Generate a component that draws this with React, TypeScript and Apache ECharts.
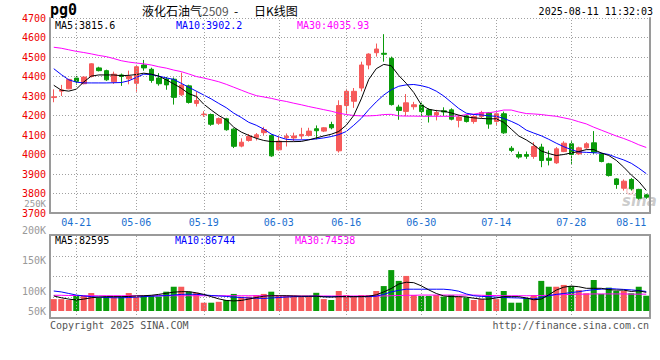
import React, { useEffect, useRef } from 'react';
import * as echarts from 'echarts';

const dates = ['04-16','04-17','04-18','04-21','04-22','04-23','04-24','04-25','04-28','04-29','04-30','05-06','05-07','05-08','05-09','05-12','05-13','05-14','05-15','05-16','05-19','05-20','05-21','05-22','05-23','05-26','05-27','05-28','05-29','05-30','06-03','06-04','06-05','06-06','06-09','06-10','06-11','06-12','06-13','06-16','06-17','06-18','06-19','06-20','06-23','06-24','06-25','06-26','06-27','06-30','07-01','07-02','07-03','07-04','07-07','07-08','07-09','07-10','07-11','07-14','07-15','07-16','07-17','07-18','07-21','07-22','07-23','07-24','07-25','07-28','07-29','07-30','07-31','08-01','08-04','08-05','08-06','08-07','08-08','08-11'];
const labelDates = ['04-21','05-06','05-19','06-03','06-16','06-30','07-14','07-28','08-11'];

const openP = [4292,4325,4337,4392,4363,4400,4444,4430,4373,4408, 4388,4365,4459,4437,4392,4387,4386,4306,4352,4262, 4204,4205,4160,4183,4130,4043,4072,4088,4112,4098, 4024,4086,4085,4095,4098,4132,4120,4154,4019,4251, 4273,4341,4459,4522,4519,4493,4243,4221,4245,4254, 4229,4203,4224,4229,4175,4198,4169,4195,4213,4169, 4209,4032,4000,4000,3990,4038,3981,3957,4015,4055, 4003,4034,4060,4003,3952,3875,3827,3872,3821,3793];
const closeP = [4296,4331,4385,4375,4397,4465,4430,4383,4412,4400, 4400,4450,4444,4380,4363,4357,4293,4356,4267,4277, 4207,4155,4184,4127,4042,4063,4093,4101,4128,3993, 4068,4094,4095,4103,4120,4122,4137,4137,4251,4324, 4324,4459,4515,4541,4514,4256,4226,4265,4255,4220, 4202,4215,4218,4181,4192,4169,4195,4215,4156,4209, 4111,4021,3987,3991,4041,3969,3970,4029,4058,4000, 4034,4055,4012,3964,3892,3846,3863,3824,3776,3781];
const lowP = [4268,4300,4335,4358,4360,4395,4426,4378,4362,4352, 4360,4322,4430,4368,4353,4332,4256,4300,4261,4246, 4193,4147,4152,4122,4033,4037,4066,4072,4098,3988, 4020,4041,4069,4078,4092,4078,4115,4129,4010,4205, 4239,4324,4437,4502,4476,4251,4178,4197,4230,4198, 4164,4175,4198,4175,4139,4164,4158,4186,4132,4152, 4106,4012,3978,3978,3978,3935,3944,3952,4012,3952, 3997,4029,4003,3960,3887,3824,3815,3815,3769,3773];
const highP = [4334,4357,4388,4403,4400,4468,4450,4435,4425,4415, 4430,4460,4485,4445,4417,4398,4395,4420,4358,4323, 4222,4210,4190,4188,4135,4083,4105,4110,4142,4103, 4092,4108,4112,4137,4137,4149,4140,4168,4278,4337, 4341,4476,4519,4569,4617,4502,4255,4310,4270,4266, 4237,4229,4242,4237,4203,4203,4203,4224,4216,4217, 4220,4043,4015,4015,4063,4055,4020,4038,4068,4068, 4040,4063,4120,4008,3957,3879,3872,3879,3824,3798];

const ma5 = [4355,4330,4325,4335,4372,4402,4408,4408,4408,4404, 4406,4410,4417,4412,4402,4383,4362,4340,4312,4298, 4258,4228,4200,4178,4140,4115,4098,4083,4072,4066, 4066,4066,4066,4067,4075,4085,4095,4104,4118,4150, 4200,4285,4385,4440,4462,4455,4405,4365,4318,4255, 4232,4225,4222,4213,4202,4193,4188,4185,4183,4183, 4165,4130,4095,4075,4050,4018,4005,3995,4000,4008, 4015,4025,4025,4008,3995,3970,3935,3895,3862,3816];
const ma10 = [4440,4410,4383,4371,4367,4367,4367,4367,4368,4369, 4378,4395,4412,4410,4402,4393,4385,4365,4345,4325, 4305,4285,4262,4240,4212,4190,4165,4150,4130,4105, 4090,4078,4075,4075,4076,4080,4085,4092,4102,4118, 4150,4185,4230,4270,4305,4332,4350,4357,4359,4353, 4343,4325,4300,4268,4236,4212,4205,4203,4198,4196, 4185,4170,4152,4125,4110,4096,4078,4058,4040,4025, 4013,4011,4009,4007,4000,3985,3972,3955,3930,3902];
const ma30 = [4550,4545,4537,4529,4523,4516,4508,4502,4492,4481, 4474,4469,4465,4459,4450,4443,4433,4425,4413,4400, 4392,4383,4373,4360,4345,4330,4315,4302,4295,4288, 4279,4272,4263,4255,4246,4238,4230,4222,4212,4205, 4200,4198,4198,4200,4205,4206,4198,4197,4197,4196, 4196,4196,4196,4196,4198,4205,4207,4214,4214,4220, 4228,4228,4218,4210,4208,4205,4200,4196,4188,4180, 4168,4157,4140,4125,4110,4095,4082,4067,4050,4036];

// volume, in thousands
const vol = [53,53,49,68,68,80,59,64,64,64, 80,64,68,68,64,86,108,108,86,81, 37,37,41,49,76,64,64,71,76,86, 68,68,68,64,64,81,53,49,89,71, 64,71,71,89,111,182,134,156,71,67, 67,71,64,71,64,59,49,53,86,53, 89,37,37,59,71,134,108,108,116,111, 93,79,138,76,104,89,89,79,108,68];
const volMa5 = [67,59,53,49,53,59,62,64,64,64, 65,67,68,70,74,79,84,86,86,81, 74,64,54,47,45,47,53,60,66,68, 68,68,67,66,66,66,63,62,64,64, 64,64,66,72,85,100,120,128,126,112, 94,78,67,64,64,62,57,53,53,58, 64,64,64,58,50,53,72,93,106,111, 108,101,101,101,95,93,93,87,90,83];
const volMa10 = [89,85,78,71,67,64,62,60,59,59, 60,62,64,66,67,69,71,74,75,74, 72,69,67,65,62,60,58,57,56,58, 60,62,64,64,65,66,64,64,64,64, 64,64,64,66,74,85,92,97,97,97, 97,97,97,94,88,76,68,65,64,62, 60,59,58,56,54,60,68,74,78,82, 86,91,95,97,100,98,96,94,91,87];
const volMa30 = [70,70,69,69,68,68,68,68,68,68, 68,68,68,68,68,68,68,68,68,68, 68,68,68,68,68,68,68,68,68,68, 67,67,67,67,67,67,67,67,67,67, 67,67,67,67,67,68,69,70,70,71, 71,71,71,71,71,71,71,70,69,69, 68,68,68,68,68,69,70,72,73,74, 75,75,76,76,76,76,76,75,75,75];

const volTickLabels = ['250K', '200K', '150K', '100K', '50K'];
const volTickY = [204, 230, 260, 291, 311];

const RED = '#f65a5a';
const GREEN = '#0a9b0a';
const FRAME = '#9a9a9a';
const GRIDC = '#a0a0a0';
const MONO = '"DejaVu Sans Mono", "Liberation Mono", monospace';
const CJK = '"Noto Sans CJK SC", sans-serif';

const txt = (x: number, y: number, text: string, fill: string, font: string, align = 'left') => ({
  type: 'text', x, y, silent: true,
  style: { text, fill, font, textAlign: align, textVerticalAlign: 'middle', align, verticalAlign: 'middle' },
});

export default function App() {
  const ref = useRef<HTMLDivElement>(null);
  useEffect(() => {
    const chart = echarts.init(ref.current!, null, { renderer: 'svg' });
    const dotted = { color: GRIDC, type: [1, 2], width: 1 };
    const vLines = {
      silent: true, symbol: ['none', 'none'], label: { show: false }, animation: false,
      lineStyle: dotted,
      data: labelDates.filter((d) => d !== '08-11').map((d) => ({ xAxis: d })),
    };
    const frameAxis = { axisLine: { show: true, onZero: false, lineStyle: { color: FRAME, width: 2 } }, axisTick: { show: false }, axisLabel: { show: false }, splitLine: { show: false } };
    const option: any = {
      animation: false,
      backgroundColor: '#fff',
      grid: [
        { left: 50, top: 18, width: 600, height: 195 },
        { left: 50, top: 235, width: 600, height: 83 },
      ],
      xAxis: [
        {
          type: 'category', data: dates, gridIndex: 0, boundaryGap: true,
          axisLine: { show: true, onZero: false, lineStyle: { color: FRAME, width: 2 } },
          axisTick: { show: false },
          axisLabel: {
            interval: (_i: number, v: string) => labelDates.includes(v),
            color: '#1a6fd0', fontSize: 10, fontFamily: MONO, margin: 4, alignMaxLabel: 'right',
          },
          splitLine: { show: false },
        },
        { type: 'category', data: dates, gridIndex: 1, boundaryGap: true, position: 'bottom', ...frameAxis },
        { type: 'category', data: dates, gridIndex: 1, boundaryGap: true, position: 'top', ...frameAxis },
      ],
      yAxis: [
        {
          type: 'value', gridIndex: 0, min: 3700, max: 4700, interval: 100, position: 'left',
          axisLine: { show: true, lineStyle: { color: FRAME, width: 2 } },
          axisTick: { show: false },
          axisLabel: { color: '#ee0000', fontSize: 10, fontFamily: MONO, margin: 4, formatter: (v: number) => String(v) },
          splitLine: { show: true, lineStyle: dotted },
        },
        { type: 'value', gridIndex: 0, min: 3700, max: 4700, position: 'right', ...frameAxis },
        {
          type: 'value', gridIndex: 1, min: -31, max: 338, interval: 92.25, position: 'left',
          axisLine: { show: true, lineStyle: { color: FRAME, width: 2 } },
          axisTick: { show: false }, axisLabel: { show: false },
          splitLine: { show: true, lineStyle: dotted },
        },
        { type: 'value', gridIndex: 1, min: -31, max: 338, position: 'right', ...frameAxis },
      ],
      series: [
        {
          type: 'candlestick', xAxisIndex: 0, yAxisIndex: 0, barWidth: 5, silent: true,
          data: dates.map((_, i) => [openP[i], closeP[i], lowP[i], highP[i]]),
          itemStyle: { color: RED, color0: GREEN, borderColor: RED, borderColor0: GREEN, borderWidth: 1 },
          markLine: vLines,
        },
        { type: 'line', xAxisIndex: 0, yAxisIndex: 0, data: ma30, symbol: 'none', silent: true, z: 3, lineStyle: { color: '#ff00ff', width: 1 } },
        { type: 'line', xAxisIndex: 0, yAxisIndex: 0, data: ma10, symbol: 'none', silent: true, z: 3, lineStyle: { color: '#0000ff', width: 1 } },
        { type: 'line', xAxisIndex: 0, yAxisIndex: 0, data: ma5, symbol: 'none', silent: true, z: 3, lineStyle: { color: '#000000', width: 1 } },
        {
          type: 'bar', xAxisIndex: 1, yAxisIndex: 2, barWidth: 6, silent: true,
          data: vol.map((v, i) => ({ value: v, itemStyle: { color: closeP[i] >= openP[i] ? RED : GREEN } })),
          markLine: vLines,
        },
        { type: 'line', xAxisIndex: 1, yAxisIndex: 2, data: volMa30, symbol: 'none', silent: true, z: 3, lineStyle: { color: '#ff00ff', width: 1 } },
        { type: 'line', xAxisIndex: 1, yAxisIndex: 2, data: volMa10, symbol: 'none', silent: true, z: 3, lineStyle: { color: '#0000ff', width: 1 } },
        { type: 'line', xAxisIndex: 1, yAxisIndex: 2, data: volMa5, symbol: 'none', silent: true, z: 3, lineStyle: { color: '#000000', width: 1 } },
      ],
      graphic: [
        txt(50, 10, 'pg0', '#000', `bold 15px ${MONO}`),
        txt(142, 10, '液化石油气', '#000', `12px ${CJK}`),
        txt(202, 10, '2509', '#555', `12px ${CJK}`),
        txt(234, 10, '-', '#000', `12px ${CJK}`),
        txt(254, 10, '日K线图', '#000', `12px ${CJK}`),
        txt(653, 11, '2025-08-11 11:32:03', '#000', `10px ${MONO}`, 'right'),
        txt(55, 25, 'MA5:3815.6', '#000', `10px ${MONO}`),
        txt(176, 25, 'MA10:3902.2', '#0000ff', `10px ${MONO}`),
        txt(297, 25, 'MA30:4035.93', '#ff00ff', `10px ${MONO}`),
        txt(55, 240, 'MA5:82595', '#000', `10px ${MONO}`),
        txt(175, 240, 'MA10:86744', '#0000ff', `10px ${MONO}`),
        txt(295, 240, 'MA30:74538', '#ff00ff', `10px ${MONO}`),
        ...volTickLabels.map((t, i) => txt(46, volTickY[i], t, '#999', `${i === 0 ? 9 : 10}px ${MONO}`, 'right')),
        txt(50, 325, 'Copyright 2025 SINA.COM', '#555', `10px ${MONO}`),
        txt(649, 325, 'http://finance.sina.com.cn', '#555', `10px ${MONO}`, 'right'),
        txt(622, 201, 'sina', 'rgba(140,140,140,0.45)', `italic bold 15px "DejaVu Sans", sans-serif`),
        { type: 'ring', silent: true, shape: { cx: 630, cy: 191, r: 4, r0: 2.5 }, style: { fill: 'rgba(240,110,110,0.35)' } },
      ],
    };
    chart.setOption(option);
    return () => chart.dispose();
  }, []);
  return <div ref={ref} style={{ position: 'fixed', left: 0, top: 0, width: 660, height: 360, background: '#fff' }} />;
}
